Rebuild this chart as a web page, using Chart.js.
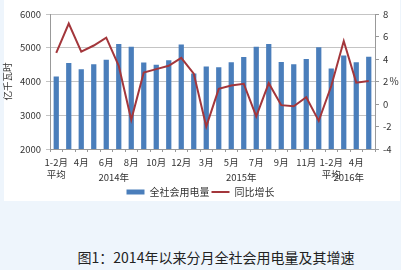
<!DOCTYPE html>
<html>
<head>
<meta charset="utf-8">
<script src="https://cdn.jsdelivr.net/npm/chart.js@4.4.1/dist/chart.umd.min.js"></script>
<style>
  html, body { margin: 0; padding: 0; }
  body { width: 401px; height: 270px; background: #eef5fc; position: relative; overflow: hidden; }
  #box { position: absolute; left: 4px; top: 0; width: 396px; height: 201px; background: #fff; }
  #wrap { position: absolute; left: 0; top: 0; width: 401px; height: 207px; }
  #cap { position: absolute; left: 0; width: 432px; top: 247px; text-align: center;
         font-family: "Noto Sans CJK SC", sans-serif; font-size: 14px; color: #222; }
</style>
</head>
<body>
<div id="box"></div>
<div id="wrap"><canvas id="grafico"></canvas></div>
<div id="cap">图1：2014年以来分月全社会用电量及其增速</div>

<script>
// 月份（2014年1-2月 ~ 2016年5月）
const mesi = [
  "1-2月", "3月", "4月", "5月", "6月", "7月", "8月", "9月", "10月", "11月", "12月",
  "1-2月", "3月", "4月", "5月", "6月", "7月", "8月", "9月", "10月", "11月", "12月",
  "1-2月", "3月", "4月", "5月"
];
// 全社会用电量（亿千瓦时）
const consumo = [
  4145, 4550, 4365, 4510, 4646, 5110, 5032, 4560, 4500, 4626, 5100,
  4240, 4443, 4425, 4570, 4725, 5030, 5110, 4580, 4510, 4667, 5014,
  4385, 4771, 4570, 4733
];
// 同比增长（%）
const crescita = [
  4.55, 7.15, 4.66, 5.2, 5.9, 3.4, -1.4, 2.8, 3.1, 3.4, 4.1,
  2.7, -2.0, 1.35, 1.65, 1.8, -1.1, 1.85, -0.1, -0.2, 0.6, -1.5,
  1.6, 5.6, 1.9, 2.05
];
const anni = ["2014年", "2015年", "2016年"];

const font = "'Noto Sans CJK SC', sans-serif";
const grigio = "#333";

// year labels under the month ticks, plus the "%" next to the right axis
const extraTesti = {
  id: "extraTesti",
  afterDraw(chart) {
    const ctx = chart.ctx;
    const x = chart.scales.x;
    const yR = chart.scales.yR;
    ctx.save();
    ctx.fillStyle = grigio;
    ctx.font = "9.5px " + font;
    ctx.textAlign = "center";
    ctx.textBaseline = "middle";
    const dove = [4.6, 14.8, 23.4];
    anni.forEach((a, i) => {
      ctx.fillText(a, x.getPixelForValue(dove[i]), x.top + 28);
    });
    ctx.font = "10px " + font;
    ctx.fillText("%", yR.right - 7, yR.getPixelForValue(2));
    ctx.restore();
  }
};

const ctx = document.getElementById("grafico").getContext("2d");
const grafico = new Chart(ctx, {
  type: "bar",
  data: {
    labels: mesi,
    datasets: [
      {
        type: "line",
        label: "同比增长",
        data: crescita,
        yAxisID: "yR",
        borderColor: "#a3363b",
        backgroundColor: "#a3363b",
        borderWidth: 2,
        pointRadius: 0,
        pointStyle: "line",
        tension: 0,
        order: 0
      },
      {
        label: "全社会用电量",
        data: consumo,
        yAxisID: "y",
        backgroundColor: "#4a7ebb",
        barPercentage: 0.42,
        categoryPercentage: 1,
        pointStyle: "rect",
        order: 1
      }
    ]
  },
  options: {
    responsive: true,
    maintainAspectRatio: false,
    animation: false,
    layout: { padding: { top: 14, left: 0, right: 0, bottom: 0 } },
    plugins: {
      tooltip: { enabled: false },
      legend: {
        position: "bottom",
        reverse: true,
        labels: {
          font: { family: font, size: 10 },
          color: grigio,
          usePointStyle: true,
          pointStyleWidth: 18,
          boxHeight: 5,
          padding: 2
        }
      }
    },
    scales: {
      x: {
        offset: true,
        grid: { drawOnChartArea: false, offset: true, tickLength: 3, color: "#999" },
        border: { color: "#999" },
        ticks: {
          autoSkip: false,
          maxRotation: 0,
          padding: 5,
          color: grigio,
          font: { family: font, size: 9.5 },
          callback: function (v, i) {
            if (i % 2 !== 0) return "";
            if (i === 0 || i === 22) return ["1-2月", "平均"];
            return mesi[i];
          }
        },
        afterFit: s => { s.height = 36; }
      },
      y: {
        position: "left",
        min: 2000,
        max: 6000,
        ticks: { stepSize: 1000, color: grigio, font: { family: font, size: 9.5 }, padding: 5,
                 callback: v => String(v) },
        grid: { color: "#c4c4c4", tickLength: 4 },
        border: { color: "#999" },
        title: { display: true, text: "亿千瓦时", color: grigio, font: { family: font, size: 9.5 }, padding: 2 },
        afterFit: s => { s.width = 50; }
      },
      yR: {
        position: "right",
        min: -4,
        max: 8,
        ticks: { stepSize: 2, color: grigio, font: { family: font, size: 9.5 }, padding: 4 },
        grid: { drawOnChartArea: false, tickLength: 4, color: "#999" },
        border: { color: "#999" },
        afterFit: s => { s.width = 26; }
      }
    }
  },
  plugins: [extraTesti]
});
</script>
</body>
</html>
